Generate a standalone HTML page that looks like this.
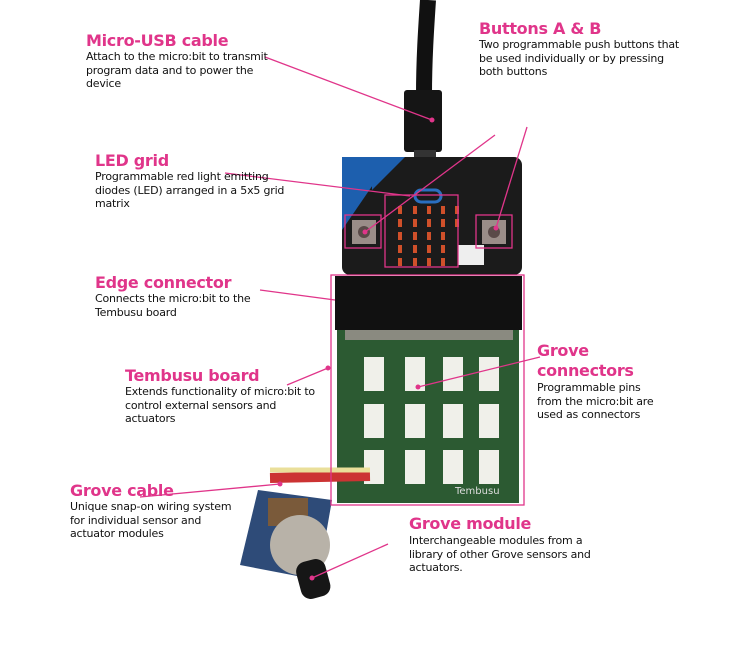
<!DOCTYPE html>
<html><head><meta charset="utf-8"><style>
body{margin:0;background:#fff;width:729px;height:651px;overflow:hidden;position:relative;font-family:"DejaVu Sans","Liberation Sans",sans-serif;}
.t{position:absolute;color:#e0358a;font-size:16px;font-weight:bold;line-height:20px;white-space:nowrap;letter-spacing:-0.3px}
.b{position:absolute;color:#111;font-size:11px;line-height:13.5px;white-space:nowrap;letter-spacing:-0.2px}
svg{position:absolute;left:0;top:0}
</style></head><body>
<svg width="729" height="651" viewBox="0 0 729 651">
<path d="M428 0 C426 30 424 60 424 95" stroke="#111" stroke-width="16" fill="none"/>
<rect x="404" y="90" width="38" height="62" rx="3" fill="#151515"/>
<rect x="414" y="150" width="22" height="12" fill="#333"/>
<rect x="342" y="157" width="180" height="118" rx="8" fill="#1b1b1b"/>
<polygon points="342,157 392,157 342,230" fill="#1d5fae"/>
<polygon points="372,157 405,157 372,190" fill="#1d5fae"/>
<rect x="415" y="190" width="26" height="12" rx="6" fill="none" stroke="#2a6fc0" stroke-width="3"/>
<g fill="#d0502a">
<rect x="398" y="206" width="4" height="8"/><rect x="413" y="206" width="4" height="8"/><rect x="427" y="206" width="4" height="8"/><rect x="441" y="206" width="4" height="8"/><rect x="455" y="206" width="4" height="8"/>
<rect x="398" y="219" width="4" height="8"/><rect x="413" y="219" width="4" height="8"/><rect x="427" y="219" width="4" height="8"/><rect x="441" y="219" width="4" height="8"/><rect x="455" y="219" width="4" height="8"/>
<rect x="398" y="232" width="4" height="8"/><rect x="413" y="232" width="4" height="8"/><rect x="427" y="232" width="4" height="8"/><rect x="441" y="232" width="4" height="8"/>
<rect x="398" y="245" width="4" height="8"/><rect x="413" y="245" width="4" height="8"/><rect x="427" y="245" width="4" height="8"/><rect x="441" y="245" width="4" height="8"/>
<rect x="398" y="258" width="4" height="8"/><rect x="413" y="258" width="4" height="8"/><rect x="427" y="258" width="4" height="8"/><rect x="441" y="258" width="4" height="8"/>
</g>
<rect x="458" y="245" width="26" height="20" fill="#eee"/>
<rect x="352" y="220" width="24" height="24" fill="#9a8d88"/><circle cx="364" cy="232" r="6" fill="#5a4a48"/>
<rect x="482" y="220" width="24" height="24" fill="#9a8d88"/><circle cx="494" cy="232" r="6" fill="#5a4a48"/>
<rect x="337" y="300" width="182" height="203" fill="#2c5a32"/>
<rect x="335" y="276" width="187" height="54" fill="#111"/>
<rect x="345" y="330" width="168" height="10" fill="#8a8a80"/>
<g fill="#f0f0ea">
<rect x="364" y="357" width="20" height="34"/><rect x="405" y="357" width="20" height="34"/><rect x="443" y="357" width="20" height="34"/><rect x="479" y="357" width="20" height="34"/>
<rect x="364" y="404" width="20" height="34"/><rect x="405" y="404" width="20" height="34"/><rect x="443" y="404" width="20" height="34"/><rect x="479" y="404" width="20" height="34"/>
<rect x="364" y="450" width="20" height="34"/><rect x="405" y="450" width="20" height="34"/><rect x="443" y="450" width="20" height="34"/><rect x="479" y="450" width="20" height="34"/>
</g>
<text x="455" y="494" fill="#ddd" font-size="10" font-family="DejaVu Sans">Tembusu</text>
<path d="M270 478 L370 476" stroke="#c33" stroke-width="10" fill="none"/>
<path d="M270 470 L370 470" stroke="#eadf9a" stroke-width="5" fill="none"/>
<polygon points="258,490 332,500 318,580 240,565" fill="#2e4b78"/>
<rect x="268" y="498" width="40" height="28" fill="#7a5a3a"/>
<circle cx="300" cy="545" r="30" fill="#b8b2a8"/>
<rect x="298" y="560" width="30" height="38" rx="10" fill="#161616" transform="rotate(-15 313 578)"/>
<g stroke="#e0358a" stroke-width="1.3" fill="none">
<rect x="385" y="195" width="73" height="72"/>
<rect x="345" y="215" width="36" height="33"/>
<rect x="476" y="215" width="36" height="33"/>
<rect x="331" y="275" width="193" height="230"/>
<line x1="265" y1="57" x2="432" y2="120"/>
<line x1="225" y1="173" x2="410" y2="196"/>
<line x1="495" y1="135" x2="365" y2="232"/>
<line x1="527" y1="127" x2="496" y2="228"/>
<line x1="260" y1="290" x2="335" y2="300"/>
<line x1="287" y1="385" x2="328" y2="368"/>
<line x1="540" y1="357" x2="418" y2="387"/>
<line x1="140" y1="497" x2="280" y2="484"/>
<line x1="388" y1="544" x2="312" y2="578"/>
</g>
<g fill="#e0358a"><circle cx="432" cy="120" r="2.5"/><circle cx="365" cy="232" r="2.5"/><circle cx="496" cy="228" r="2.5"/><circle cx="328" cy="368" r="2.5"/><circle cx="418" cy="387" r="2.5"/><circle cx="280" cy="484" r="2.5"/><circle cx="312" cy="578" r="2.5"/></g>
</svg>
<div class="t" style="left:86px;top:31px">Micro-USB cable</div>
<div class="b" style="left:86px;top:50px">Attach to the micro:bit to transmit<br>program data and to power the<br>device</div>
<div class="t" style="left:479px;top:19px">Buttons A &amp; B</div>
<div class="b" style="left:479px;top:38px">Two programmable push buttons that<br>be used individually or by pressing<br>both buttons</div>
<div class="t" style="left:95px;top:151px">LED grid</div>
<div class="b" style="left:95px;top:170px">Programmable red light emitting<br>diodes (LED) arranged in a 5x5 grid<br>matrix</div>
<div class="t" style="left:95px;top:273px">Edge connector</div>
<div class="b" style="left:95px;top:292px">Connects the micro:bit to the<br>Tembusu board</div>
<div class="t" style="left:125px;top:366px">Tembusu board</div>
<div class="b" style="left:125px;top:385px">Extends functionality of micro:bit to<br>control external sensors and<br>actuators</div>
<div class="t" style="left:537px;top:341px">Grove<br>connectors</div>
<div class="b" style="left:537px;top:381px">Programmable pins<br>from the micro:bit are<br>used as connectors</div>
<div class="t" style="left:70px;top:481px">Grove cable</div>
<div class="b" style="left:70px;top:500px">Unique snap-on wiring system<br>for individual sensor and<br>actuator modules</div>
<div class="t" style="left:409px;top:514px">Grove module</div>
<div class="b" style="left:409px;top:534px">Interchangeable modules from a<br>library of other Grove sensors and<br>actuators.</div>
</body></html>
